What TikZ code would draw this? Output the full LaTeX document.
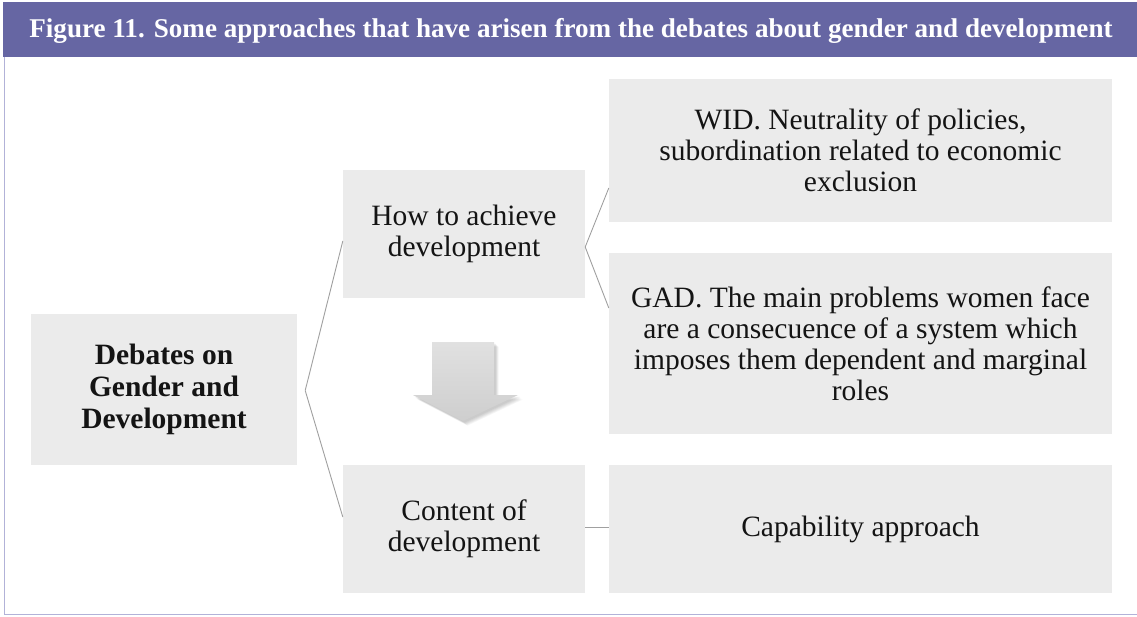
\documentclass[tikz,border=0pt]{standalone}
\usepackage{fontspec}
\setmainfont{Liberation Serif}
\definecolor{headpurple}{RGB}{102,102,163}
\definecolor{framepurple}{RGB}{178,178,216}
\definecolor{boxgray}{RGB}{235,235,235}
\definecolor{linkgray}{RGB}{160,160,160}
\definecolor{arrowgray}{RGB}{217,217,217}
\definecolor{inktext}{RGB}{20,20,20}
\tikzset{
  box/.style={fill=boxgray, draw=none, inner sep=0pt, align=center,
    text=inktext, font=\fontsize{29.5}{31}\selectfont},
  boldbox/.style={box, font=\fontsize{29.5}{32}\selectfont\bfseries},
  link/.style={draw=linkgray, line width=0.9pt},
  arrowshape/.pic={
    \path[pic actions] (432,342) -- (494,342) -- (494,395) -- (518,395)
      -- (463,421) -- (413,395) -- (432,395) -- cycle;
  },
}
\begin{document}
\begin{tikzpicture}[x=1pt,y=-1pt]
\useasboundingbox (0,0) rectangle (1137,616);
% page frame and title band
\fill[white] (0,0) rectangle (1137,616);
\draw[framepurple, line width=1.2pt] (4.5,57) -- (4.5,614.5) -- (1137,614.5);
\fill[headpurple] (3,2) rectangle (1137,57);
\node[text=white, inner sep=0pt] (title) at (571,31)
  {\resizebox{1083pt}{!}{\bfseries Figure 11. Some approaches that have arisen from the debates about gender and development}};

% boxes
\node[boldbox, minimum width=266pt, minimum height=151pt] (deb) at (164,389.5)
  {Debates on\\Gender and\\Development};
\node[box, minimum width=242pt, minimum height=128pt] (how) at (464,234)
  {How to achieve\\development};
\node[box, minimum width=242pt, minimum height=128pt] (cont) at (464,529)
  {Content of\\development};
\node[box, minimum width=503pt, minimum height=143pt] (wid) at (860.5,150.5)
  {WID. Neutrality of policies,\\subordination related to economic\\exclusion};
\node[box, minimum width=503pt, minimum height=181pt] (gad) at (860.5,343.5)
  {GAD. The main problems women face\\are a consecuence of a system which\\imposes them dependent and marginal\\roles};
\node[box, minimum width=503pt, minimum height=128pt] (cap) at (860.5,529)
  {Capability approach};

% soft shadow under the block arrow, built from stacked translucent copies
\foreach \s in {1,2,...,6}{
  \pic[fill=black, fill opacity=0.035, xshift=1+\s*0.6, yshift=-1-\s*0.6] {arrowshape};
}
% block arrow between the two middle boxes
\pic[top color=arrowgray!80!white, bottom color=arrowgray!95!black] {arrowshape};

% connectors
\coordinate (e1) at ([xshift=8pt,yshift=-1pt]deb.east);
\coordinate (e2) at ([yshift=-13pt]how.east);
\draw[link] (e1) -- ([yshift=-7pt]how.west);
\draw[link] (e1) -- ([yshift=12pt]cont.west);
\draw[link] (e2) -- ([yshift=-37.5pt]wid.west);
\draw[link] (e2) -- ([yshift=35.5pt]gad.west);
\draw[link] ([yshift=2pt]cont.east) -- ([yshift=2pt]cap.west);
\end{tikzpicture}
\end{document}
